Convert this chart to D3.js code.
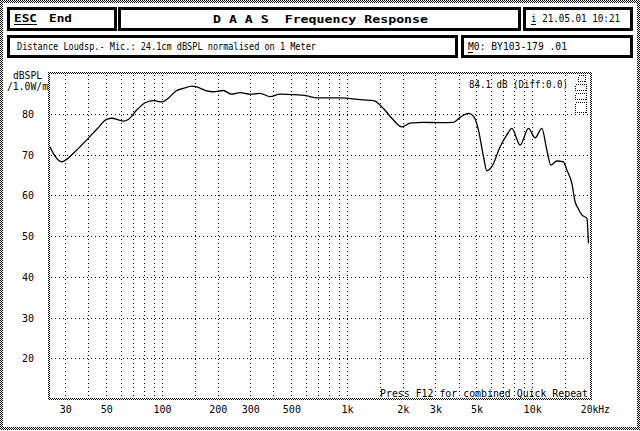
<!DOCTYPE html>
<html><head><meta charset="utf-8">
<script src="https://cdn.jsdelivr.net/npm/d3@7"></script>
<style>
html,body{margin:0;padding:0;background:#fff;}
svg{display:block;}
text{font-family:"DejaVu Sans Mono",monospace;fill:#000;white-space:pre;}
</style></head>
<body>
<script>
// ---- data ----
const freqs = [24.8, 26.4, 28.7, 30.5, 33.2, 39.2, 44.4, 50.2, 53.5, 61.8, 65.7, 73, 81, 90, 100, 108, 120, 130, 145, 154, 174, 189, 214, 238, 264, 299, 339, 384, 434, 513, 606, 686, 917, 1225, 1388, 1572, 1744, 1977, 2191, 2585, 3183, 3756, 4083, 4529, 4819, 5128, 5457, 5693, 6056, 6714, 7299, 7766, 8613, 9550, 10380, 11280, 12010, 12620, 13600, 14760, 15400, 16390, 17070, 17700, 18560, 19760, 20150];
const dbs   = [71.9, 69.6, 68.2, 68.8, 70.3, 73.6, 76.2, 78.6, 78.9, 78.2, 78.6, 80.9, 82.7, 83.2, 82.9, 83.8, 85.7, 86.2, 86.8, 86.6, 85.6, 85.4, 85.7, 84.8, 85.2, 84.8, 85.0, 84.2, 84.8, 84.7, 84.4, 83.9, 83.9, 83.4, 83.2, 81.3, 78.9, 76.8, 77.7, 77.9, 77.8, 77.9, 79.1, 80.1, 79.4, 76.0, 69.5, 66.0, 67.0, 71.9, 74.8, 76.4, 72.3, 76.4, 74.1, 76.4, 71.1, 67.4, 68.4, 68.2, 66.2, 62.9, 58.4, 56.8, 55.2, 54.3, 48.2];
const xTickValues = [30, 50, 100, 200, 300, 500, 1000, 2000, 3000, 5000, 10000];
const xTickLabels = ["30", "50", "100", "200", "300", "500", "1k", "2k", "3k", "5k", "10k"];
const xLastLabel = "20kHz";
const xLastValue = 20000;
const xGridValues = [30,40,50,60,70,80,90,100,150,200,300,400,500,600,700,800,900,1000,1500,2000,3000,4000,5000,6000,7000,8000,9000,10000,15000];
const yTicks = [20, 30, 40, 50, 60, 70, 80];
const yDomain = [10, 90];
const xDomain = [24.5, 20800];

const W = 640, H = 431;
const svg = d3.select("body").append("svg").attr("width", W).attr("height", H);
const defs = svg.append("defs");
const pat = defs.append("pattern").attr("id","chk").attr("width",2).attr("height",2).attr("patternUnits","userSpaceOnUse");
pat.append("rect").attr("x",0).attr("y",0).attr("width",1).attr("height",1).attr("fill","#000");
pat.append("rect").attr("x",1).attr("y",1).attr("width",1).attr("height",1).attr("fill","#000");

svg.append("rect").attr("width",W).attr("height",H).attr("fill","#fff");
// outer page frame
svg.append("rect").attr("x",1.5).attr("y",1.5).attr("width",W-3).attr("height",H-4)
  .attr("fill","none").attr("stroke","url(#chk)").attr("stroke-width",3);

// header boxes
function box(x0,y0,x1,y1){
  svg.append("rect").attr("x",x0+1.5).attr("y",y0+1.5).attr("width",x1-x0-3).attr("height",y1-y0-3)
    .attr("fill","#fff").attr("stroke","#000").attr("stroke-width",3);
}
box(7,7,117,31); box(118,7,521,31); box(523,7,633,31);
box(7,35,458,58); box(461,35,633,58);

function txt(x,y,s,opts={}){
  const t = svg.append("text").attr("x",x).attr("y",y).text(s)
    .attr("font-size", opts.size||10)
    .attr("font-weight", opts.bold?"bold":"normal")
    .attr("text-anchor", opts.anchor||"start");
  if(opts.len){ t.attr("textLength",opts.len).attr("lengthAdjust","spacingAndGlyphs"); }
  return t;
}
function uline(x0,x1,y){
  svg.append("line").attr("x1",x0).attr("x2",x1).attr("y1",y).attr("y2",y).attr("stroke","#000").attr("stroke-width",1);
}
txt(14,22,"ESC",{bold:true,size:11,len:23}); uline(14,37,24.5);
txt(49,22,"End",{bold:true,size:11,len:23});
txt(213,23,"D A A S  Frequency Response",{bold:true,size:11,len:215});
txt(531,22,"i 21.05.01 10:21",{size:10,len:89}); uline(531,536,24.5);
txt(17,50,"Distance Loudsp.- Mic.: 24.1cm dBSPL normalised on 1 Meter",{size:10,len:299});
txt(468,50,"M0: BY103-179 .01",{size:10,len:99}); uline(468,473,52.5);

// plot
const L = 49, R = 591, T = 73, B = 399;
const x = d3.scaleLog().domain(xDomain).range([L, R]);
const y = d3.scaleLinear().domain(yDomain).range([B, T]);

const grid = svg.append("g").attr("stroke","#000").attr("stroke-width",1).attr("stroke-dasharray","1,3").attr("shape-rendering","crispEdges");
grid.selectAll("line.v").data(xGridValues).join("line")
  .attr("x1",d=>Math.round(x(d))+0.5).attr("x2",d=>Math.round(x(d))+0.5).attr("y1",T+2).attr("y2",B-1);
grid.selectAll("line.h").data(yTicks).join("line")
  .attr("y1",d=>Math.round(y(d))+0.5).attr("y2",d=>Math.round(y(d))+0.5).attr("x1",L+2).attr("x2",R-1);

// plot frame
svg.append("rect").attr("x",L).attr("y",T).attr("width",R-L).attr("height",B-T)
  .attr("fill","none").attr("stroke","url(#chk)").attr("stroke-width",2);

// small icon top-right
const ic = svg.append("g").attr("stroke","#000").attr("stroke-width",1).attr("stroke-dasharray","1,1").attr("shape-rendering","crispEdges").attr("fill","none");
[[578,75,7,6],[575,84,11,6],[575,93,11,6],[575,102,11,10]].forEach(r=>{
  ic.append("rect").attr("x",r[0]+0.5).attr("y",r[1]+0.5).attr("width",r[2]).attr("height",r[3]);
});

// axes
const xAxis = d3.axisBottom(x).tickValues(xTickValues).tickFormat((d,i)=>xTickLabels[i]).tickSize(0).tickPadding(0);
const gx = svg.append("g").attr("transform",`translate(0,${B})`).call(xAxis);
gx.select(".domain").remove();
gx.selectAll("text").attr("font-family","DejaVu Sans Mono, monospace").attr("font-size",10).attr("dy",null).attr("y",14).attr("fill","#000");
svg.append("text").attr("x",x(xLastValue)-7).attr("y",413).attr("font-size",10).text(xLastLabel)
  .attr("textLength",29).attr("lengthAdjust","spacingAndGlyphs");

const yAxis = d3.axisLeft(y).tickValues(yTicks).tickFormat(d3.format("d")).tickSize(0).tickPadding(0);
const gy = svg.append("g").attr("transform",`translate(${L-21},0)`).call(yAxis);
gy.select(".domain").remove();
gy.selectAll("text").attr("font-family","DejaVu Sans Mono, monospace").attr("font-size",10).attr("text-anchor","middle").attr("x",0).attr("dy","0.35em").attr("fill","#000");

txt(13,79,"dBSPL",{size:10,len:29});
txt(7,90,"/1.0W/m",{size:10,len:41});

txt(469,88,"84.1 dB (Diff:0.0)",{size:10,len:99});
txt(380,397,"Press F12 for combined Quick Repeat",{size:10,len:208});

// curve
const pts = freqs.map((f,i)=>[f,dbs[i]]);
const line = d3.line().x(d=>x(d[0])).y(d=>y(d[1])).curve(d3.curveMonotoneX);
svg.append("path").datum(pts).attr("d",line).attr("fill","none").attr("stroke","#000").attr("stroke-width",1.3);
</script>
</body></html>
